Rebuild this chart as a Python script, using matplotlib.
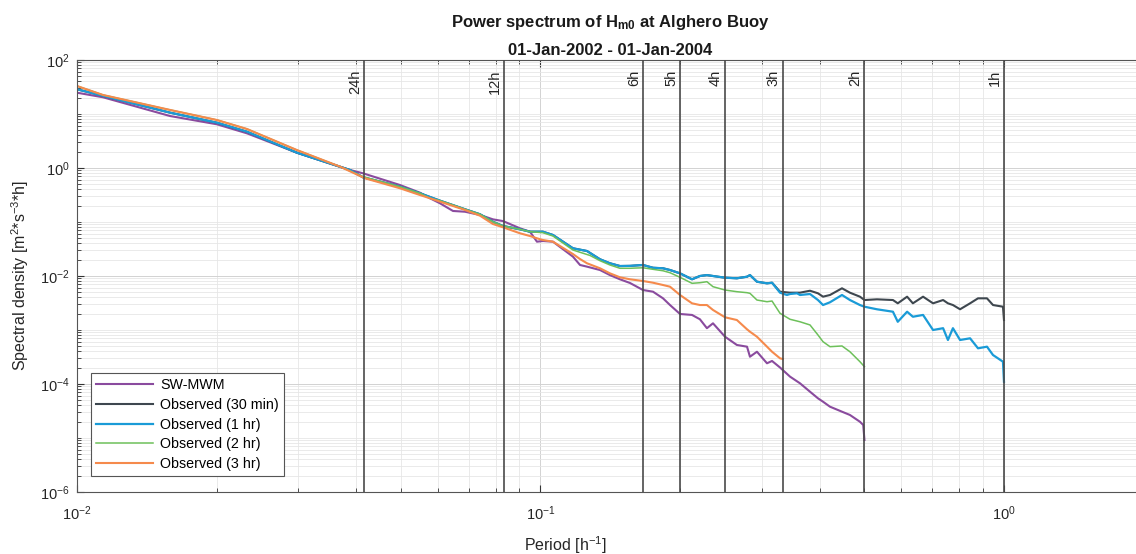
import numpy as np
import matplotlib
matplotlib.use("Agg")
import matplotlib.pyplot as plt
from matplotlib.ticker import LogLocator, LogFormatterSciNotation, NullFormatter
from matplotlib.transforms import blended_transform_factory, offset_copy

plt.rcParams['font.family'] = ['Liberation Sans', 'DejaVu Sans']
plt.rcParams['mathtext.fontset'] = 'custom'
plt.rcParams['mathtext.rm'] = 'Liberation Sans'
plt.rcParams['mathtext.it'] = 'Liberation Sans:italic'
plt.rcParams['mathtext.bf'] = 'Liberation Sans:bold'
plt.rcParams['mathtext.default'] = 'regular'

# frequency [1/h] and spectral density
f_model = [0.0100, 0.01138, 0.01587, 0.02004, 0.02326, 0.02982, 0.03882, 0.04140, 0.04976, 0.05495,
           0.05775, 0.06070, 0.06475, 0.06873, 0.07403, 0.07896, 0.08299, 0.09033, 0.09491, 0.09826,
           0.1012, 0.1064, 0.1175, 0.1217, 0.1260, 0.1344, 0.1412, 0.1484, 0.1560, 0.1664,
           0.1749, 0.1838, 0.1903, 0.2000, 0.2123, 0.2208, 0.2286, 0.2356, 0.2501, 0.2653,
           0.2790, 0.2831, 0.2931, 0.3081, 0.3159, 0.3287, 0.3454, 0.3630, 0.3815, 0.3969,
           0.4070, 0.4213, 0.4472, 0.4652, 0.4889, 0.497, 0.500]
s_model = [24.8, 20.4, 9.18, 6.45, 4.39, 1.92, 0.918, 0.798, 0.484, 0.349,
           0.275, 0.222, 0.160, 0.155, 0.135, 0.112, 0.104, 0.0764, 0.0661, 0.0432,
           0.0445, 0.0432, 0.0228, 0.0160, 0.0149, 0.0129, 0.0104, 0.00869, 0.00742, 0.00550,
           0.00512, 0.00386, 0.00290, 0.00198, 0.00190, 0.00158, 0.00108, 0.00133, 0.000751, 0.000528,
           0.000491, 0.000320, 0.000396, 0.000242, 0.000267, 0.000202, 0.000137, 0.000103, 7.20e-5, 5.43e-5,
           4.70e-5, 3.80e-5, 3.07e-5, 2.67e-5, 2.00e-5, 1.74e-5, 9.18e-6]

f_1hr = [0.0100, 0.01587, 0.02004, 0.02326, 0.02982, 0.03882, 0.04140, 0.04976, 0.05495, 0.06070,
         0.06873, 0.07403, 0.07896, 0.08299, 0.09033, 0.09491, 0.1012, 0.1064, 0.1175, 0.1260,
         0.1344, 0.1412, 0.1484, 0.1560, 0.1664, 0.1749, 0.1838, 0.1903, 0.2000, 0.2123,
         0.2208, 0.2286, 0.2356, 0.2501, 0.2653, 0.2790, 0.2831, 0.2931, 0.3081, 0.3159,
         0.3287, 0.3402, 0.3454, 0.3577, 0.3630, 0.3815, 0.3969, 0.4070, 0.4213, 0.4472,
         0.4652, 0.4889, 0.500, 0.532, 0.576, 0.590, 0.618, 0.636, 0.669, 0.703,
         0.739, 0.757, 0.776, 0.804, 0.845, 0.879, 0.919, 0.947, 0.995, 1.0]
s_1hr = [28.7, 10.6, 6.90, 4.70, 1.92, 0.918, 0.673, 0.450, 0.340, 0.248,
         0.172, 0.139, 0.101, 0.0843, 0.0732, 0.0661, 0.0661, 0.0574, 0.0326, 0.0290,
         0.0204, 0.0172, 0.0153, 0.0154, 0.0160, 0.0142, 0.0139, 0.0129, 0.0112, 0.00869,
         0.0100, 0.0104, 0.0100, 0.0093, 0.00907, 0.0097, 0.0104, 0.00784, 0.00732, 0.00751,
         0.00491, 0.00445, 0.00464, 0.00478, 0.00445, 0.00464, 0.00359, 0.00290, 0.00326, 0.00445,
         0.00359, 0.00290, 0.00270, 0.00242, 0.00218, 0.00142, 0.00218, 0.00176, 0.00190, 0.00100,
         0.00108, 0.000653, 0.00108, 0.000653, 0.000702, 0.000458, 0.000491, 0.000344, 0.000259, 0.000110]

# 30 min series sits under the 1 hr one below ~0.29 1/h, only the tail is visible
f_30min_tail = [0.2931, 0.3081, 0.3159, 0.3287, 0.3454, 0.3630, 0.3815, 0.3969, 0.4070, 0.4213,
                0.4472, 0.4652, 0.4889, 0.500, 0.532, 0.576, 0.590, 0.618, 0.636, 0.669,
                0.703, 0.739, 0.757, 0.776, 0.804, 0.845, 0.879, 0.919, 0.947, 0.995, 1.0]
s_30min_tail = [0.00784, 0.00732, 0.00751, 0.00512, 0.00491, 0.00491, 0.00534, 0.00478, 0.00414, 0.00445,
                0.00592, 0.00491, 0.00414, 0.00359, 0.00370, 0.00359, 0.00312, 0.00414, 0.00312, 0.00414,
                0.00312, 0.00359, 0.00312, 0.00290, 0.00242, 0.00312, 0.00386, 0.00386, 0.00290, 0.00270, 0.00153]

f_2hr = [0.0100, 0.01138, 0.01587, 0.02004, 0.02326, 0.02982, 0.03694, 0.04140, 0.04976, 0.05495,
         0.05775, 0.06070, 0.06475, 0.06873, 0.07403, 0.07896, 0.08299, 0.09033, 0.09491, 0.1012,
         0.1064, 0.1175, 0.1217, 0.1279, 0.1344, 0.1412, 0.1484, 0.1560, 0.1664, 0.1749,
         0.1838, 0.1903, 0.2000, 0.2123, 0.2208, 0.2286, 0.2356, 0.2501, 0.2653, 0.2790,
         0.2831, 0.2931, 0.3081, 0.3159, 0.3287, 0.3454, 0.3630, 0.3815, 0.3969, 0.4070,
         0.4213, 0.4472, 0.4652, 0.4889, 0.500]
s_2hr = [33.0, 22.5, 11.9, 7.74, 5.28, 2.15, 1.06, 0.690, 0.450, 0.340,
         0.275, 0.248, 0.206, 0.172, 0.139, 0.101, 0.0843, 0.0732, 0.0661, 0.0634,
         0.0550, 0.0303, 0.0275, 0.0240, 0.0192, 0.0160, 0.0139, 0.0139, 0.0142, 0.0133,
         0.0125, 0.0115, 0.00946, 0.00732, 0.00751, 0.00784, 0.00634, 0.00550, 0.00512, 0.00491,
         0.00478, 0.00359, 0.00334, 0.00344, 0.00204, 0.00158, 0.00142, 0.00124, 0.000808, 0.000607,
         0.000491, 0.000506, 0.000396, 0.000259, 0.000209]

f_3hr = [0.0100, 0.01138, 0.01587, 0.02004, 0.02326, 0.02982, 0.03694, 0.04182, 0.04976, 0.05495,
         0.05775, 0.06070, 0.06475, 0.06873, 0.07403, 0.07896, 0.08299, 0.09033, 0.09491, 0.09826,
         0.1012, 0.1064, 0.1175, 0.1217, 0.1260, 0.1344, 0.1412, 0.1484, 0.1560, 0.1664,
         0.1749, 0.1838, 0.1903, 0.2000, 0.2123, 0.2208, 0.2286, 0.2356, 0.2501, 0.2653,
         0.2790, 0.2831, 0.2931, 0.3081, 0.3159, 0.3287, 0.3333]
s_3hr = [33.0, 22.5, 11.9, 7.74, 5.28, 2.15, 1.06, 0.645, 0.421, 0.316,
         0.275, 0.238, 0.198, 0.167, 0.131, 0.0918, 0.0798, 0.0618, 0.0550, 0.0499,
         0.0464, 0.0432, 0.0255, 0.0206, 0.0172, 0.0139, 0.0112, 0.00946, 0.00869, 0.00808,
         0.00751, 0.00681, 0.00634, 0.00445, 0.00312, 0.00290, 0.00290, 0.00235, 0.00172, 0.00153,
         0.00103, 0.000930, 0.000751, 0.000491, 0.000396, 0.000299, 0.000290]

period_hours = [24, 12, 6, 5, 4, 3, 2, 1]

series_labels = ['SW-MWM', 'Observed (30 min)', 'Observed (1 hr)', 'Observed (2 hr)', 'Observed (3 hr)']
series_colors = ['#8A4B9E', '#3E474F', '#1A9BD7', '#6DC05A', '#F58A4C']
series_widths = [1.5, 1.5, 1.6, 1.1, 1.5]


def main():
    f_head = [f for f in f_1hr if f < 0.29]
    f_30min = f_head + f_30min_tail
    s_30min = s_1hr[:len(f_head)] + s_30min_tail

    series = [(f_model, s_model), (f_30min, s_30min), (f_1hr, s_1hr),
              (f_2hr, s_2hr), (f_3hr, s_3hr)]

    fig = plt.figure(figsize=(11.36, 5.54), dpi=100)
    W, H = 1136.0, 554.0
    x0, x1, y0, y1 = 77, 1143.5, 60, 492
    ax = fig.add_axes([x0 / W, 1 - y1 / H, (x1 - x0) / W, (y1 - y0) / H])

    for (f, s), lab, col, lw in zip(series, series_labels, series_colors, series_widths):
        ax.plot(f, s, color=col, lw=lw, label=lab)

    ax.set_xscale('log')
    ax.set_yscale('log')
    ax.set_xlim(0.01, 2)
    ax.set_ylim(1e-6, 1e2)

    # period markers
    trans = blended_transform_factory(ax.transData, ax.transAxes)
    trans = offset_copy(trans, fig=fig, x=-2, y=-10, units='dots')
    for p in period_hours:
        ax.axvline(1.0 / p, color='#4a4a4a', lw=1.2, zorder=5)
        ax.text(1.0 / p, 1.0, f'{p}h', transform=trans, rotation=90,
                ha='right', va='top', fontsize=10.5, color='#262626')

    ax.yaxis.set_major_locator(LogLocator(base=100))
    ax.yaxis.set_major_formatter(LogFormatterSciNotation(base=10))
    ax.yaxis.set_minor_locator(LogLocator(base=10, subs=np.arange(1, 10), numticks=100))
    ax.yaxis.set_minor_formatter(NullFormatter())
    ax.xaxis.set_minor_locator(LogLocator(base=10, subs=np.arange(2, 10), numticks=100))
    ax.xaxis.set_minor_formatter(NullFormatter())

    ax.grid(True, which='major', color='#d2d2d2', lw=0.7)
    ax.grid(True, which='minor', color='#e6e6e6', lw=0.6)
    ax.set_axisbelow(True)
    ax.tick_params(which='both', direction='in', top=True, right=True,
                   colors='#333333', labelcolor='#262626', labelsize=10.5)
    ax.tick_params(which='major', length=5)
    ax.tick_params(which='minor', length=3)
    ax.tick_params(axis='x', which='both', pad=9)
    ax.tick_params(axis='y', which='both', pad=5)
    for sp in ax.spines.values():
        sp.set_color('#555555')
        sp.set_linewidth(0.8)

    ax.set_ylabel('Spectral density [m$^{2}$*s$^{-3}$*h]', fontsize=11.5, color='#262626')
    ax.set_xlabel('Period [h$^{-1}$]', fontsize=11.5, color='#262626')
    ax.xaxis.set_label_coords((565 - x0) / (x1 - x0), -(534 - y1) / (y1 - y0))
    ax.yaxis.set_label_coords(-(77 - 31) / (x1 - x0), 0.5)

    fig.text(610 / W, 1 - 27 / H, r'Power spectrum of H$_{\mathbf{m0}}$ at Alghero Buoy',
             ha='center', va='baseline', fontsize=12, fontweight='bold', color='#1a1a1a')
    fig.text(610 / W, 1 - 55 / H, '01-Jan-2002 - 01-Jan-2004',
             ha='center', va='baseline', fontsize=12, fontweight='bold', color='#1a1a1a')

    leg = ax.legend(loc='lower left', bbox_to_anchor=(0.013, 0.037), fontsize=10.3,
                    frameon=True, fancybox=False, edgecolor='#555555', framealpha=1,
                    handlelength=4.0, handletextpad=0.5, labelspacing=0.4,
                    borderpad=0.35, borderaxespad=0)
    leg.get_frame().set_linewidth(0.8)

    fig.savefig('out.png', dpi=100)
    plt.close(fig)


if __name__ == "__main__":
    main()
